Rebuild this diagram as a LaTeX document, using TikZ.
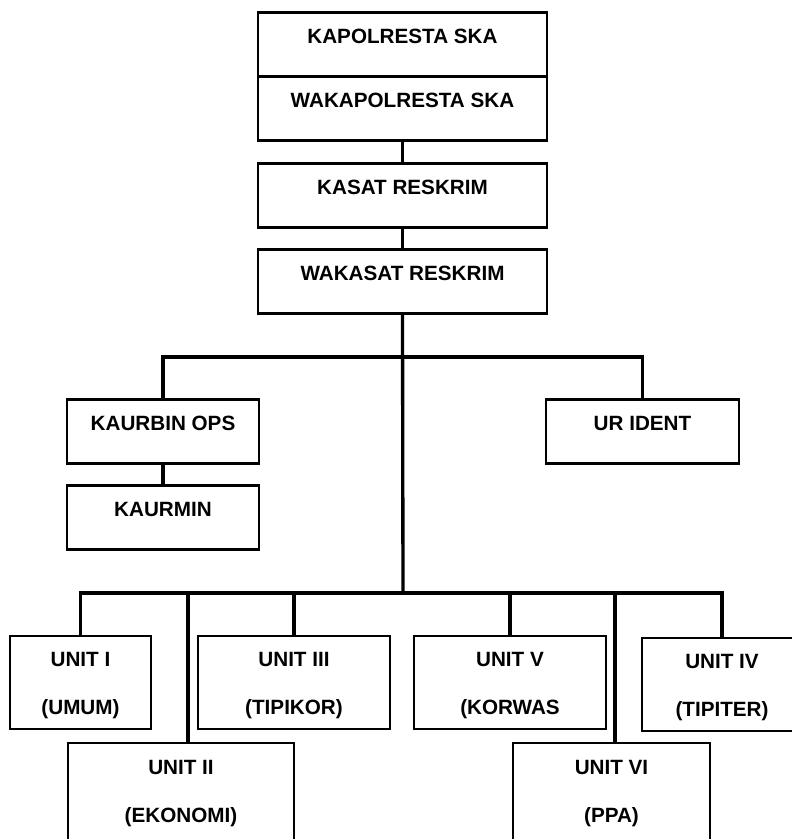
\documentclass[tikz,border=0pt]{standalone}
\usepackage{fontspec}
\setmainfont{Liberation Sans}
\usetikzlibrary{positioning,calc}

\begin{document}
\begin{tikzpicture}[x=0.75pt, y=-0.75pt,
    box/.style={draw, line width=1.6pt, align=center, inner sep=0pt,
        font=\bfseries\fontsize{15.5}{36}\selectfont},
    onebox/.style={box, minimum width=#1, minimum height=48pt,
        text height=12pt, text depth=12.9pt},
    twobox/.style={box, minimum width=#1, minimum height=69.75pt,
        text height=48pt, text depth=0.15pt},
    lowbox/.style={box, minimum width=#1, minimum height=90pt,
        text height=48pt, text depth=18.9pt},
    link/.style={line width=2.5pt}]
    \useasboundingbox (0,0) rectangle (792,839);
    \clip (0,0) rectangle (792,839);

    % leadership
    \node[onebox=216.75pt] (kapolresta) at (402.5, 44.5) {KAPOLRESTA SKA};
    \node[onebox=216.75pt] (wakapolresta) at (402.5, 108.5) {WAKAPOLRESTA SKA};
    \node[onebox=216.75pt] (kasat) at (402.5, 195.5) {KASAT RESKRIM};
    \node[onebox=216.75pt] (wakasat) at (402.5, 281.5) {WAKASAT RESKRIM};

    % staff
    \node[onebox=144pt] (kaurbin) at (163, 431.5) {KAURBIN OPS};
    \node[onebox=144pt] (kaurmin) at (163, 517.5) {KAURMIN};
    \node[onebox=144.75pt] (urident) at (642.5, 431.5) {UR IDENT};

    % units
    \node[twobox=105.75pt] (uniti) at (80.5, 682.5) {UNIT I\\(UMUM)};
    \node[twobox=144pt] (unitiii) at (294, 682.5) {UNIT III\\(TIPIKOR)};
    \node[twobox=144pt] (unitv) at (510, 682.5) {UNIT V\\(KORWAS};
    \node[twobox=120pt] (unitiv) at (722, 684.5) {UNIT IV\\(TIPITER)};
    \node[lowbox=169.5pt] (unitii) at (181, 803) {UNIT II\\(EKONOMI)};
    \node[lowbox=147.75pt] (unitvi) at (611.5, 803) {UNIT VI\\(PPA)};

    \coordinate (hub1) at (403, 357);
    \coordinate (hub2) at (403, 593);
    \coordinate (drop2) at ($(unitii.north)+(7,0)$);
    \coordinate (drop6) at ($(unitvi.north)+(3.5,0)$);

    \draw[link] (wakapolresta) -- (kasat);
    \draw[link] (kasat) -- (wakasat);
    \draw[link] (wakasat.south) -- (hub2);
    \draw[link] (kaurbin.north) |- (hub1) -| (urident.north);
    \draw[link] (kaurbin) -- (kaurmin);
    \draw[link] (uniti.north) |- (hub2) -| (unitiv.north);
    \draw[link] (unitiii.north) -- (unitiii.north |- hub2);
    \draw[link] (unitv.north) -- (unitv.north |- hub2);
    \draw[link] (drop2) -- (drop2 |- hub2);
    \draw[link] (drop6) -- (drop6 |- hub2);
\end{tikzpicture}
\end{document}
